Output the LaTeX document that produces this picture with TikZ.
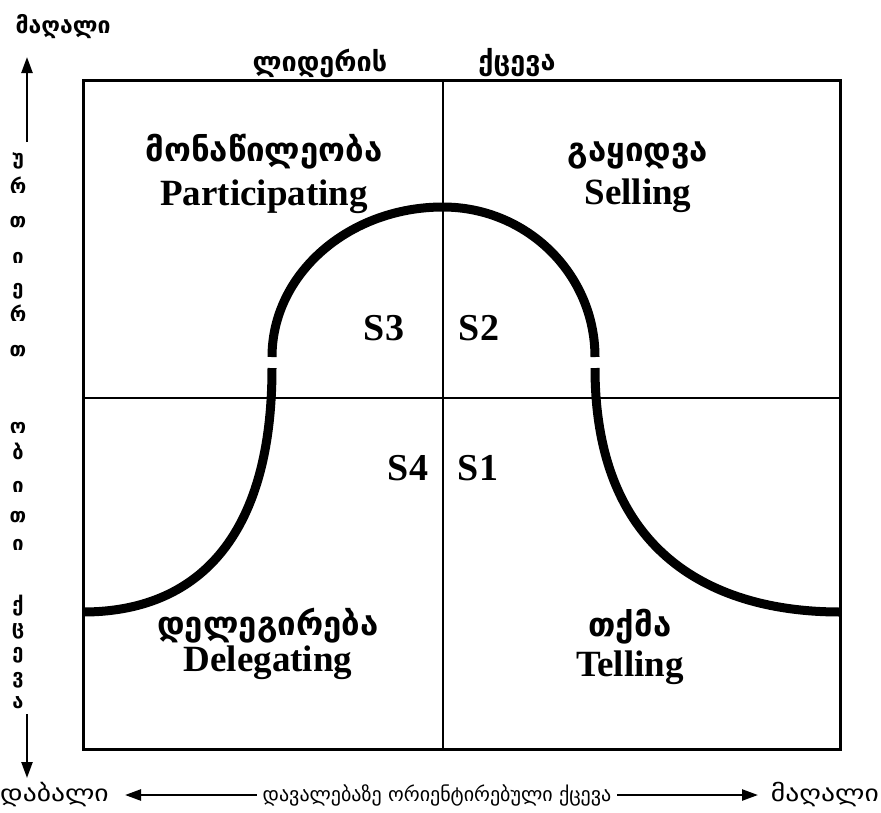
\documentclass[tikz,border=0pt]{standalone}
\usepackage{fontspec}
\setmainfont{Liberation Serif}
\newfontfamily\geo{DejaVu Sans}
\newfontfamily\geowide[FakeStretch=1.2]{DejaVu Sans}
\usetikzlibrary{arrows.meta, positioning}
\tikzset{
  frame/.style={draw, line width=3pt},
  divider/.style={draw, line width=2pt},
  curve/.style={line width=9pt},
  geolabel/.style={font=\geo\bfseries\fontsize{33}{33}\selectfont, inner sep=1pt},
  englabel/.style={font=\bfseries\fontsize{37}{37}\selectfont, inner sep=1pt},
  stylelabel/.style={font=\bfseries\fontsize{38}{38}\selectfont, inner sep=1pt},
  toplabel/.style={font=\geo\bfseries\fontsize{27}{27}\selectfont},
  vletter/.style={font=\geo\bfseries\fontsize{20}{20}\selectfont, inner sep=0pt},
  axistext/.style={font=\geo\fontsize{20}{20}\selectfont, inner sep=6pt},
  endword/.style={font=\geowide\fontsize{23}{23}\selectfont, inner sep=0pt},
  axisarrow/.style={-{Triangle[length=16pt, width=11pt]}, line width=2.4pt}
}
\begin{document}
\begin{tikzpicture}[x=1pt, y=-1pt]
    \useasboundingbox (0,0) rectangle (881,812);

    % quadrant grid
    \draw[frame] (83,80) rectangle (840,749);
    \draw[divider] (443,80) -- (443,749);
    \draw[divider] (83,398) -- (840,398);

    % leadership curve
    \draw[curve] (83,612) .. controls (195,612) and (272,540) .. (272,368);
    \draw[curve] (272,357) arc[start angle=180, end angle=270, x radius=171, y radius=150]
                           arc[start angle=270, end angle=360, x radius=152, y radius=150];
    \draw[curve] (595,368) .. controls (595,555) and (715,612) .. (840,612);

    % heading
    \node[toplabel] (leader) at (320,63) {ლიდერის};
    \node[toplabel] (behav) at (517,63) {ქცევა};
    \node[vletter, font=\geo\bfseries\fontsize{23}{23}\selectfont] (hightop) at (63,27) {მაღალი};

    % quadrants
    \node[geolabel] (partgeo) at (264,152) {მონაწილეობა};
    \node[englabel, below=8pt of partgeo] (parteng) {Participating};
    \node[geolabel] (sellgeo) at (638,155) {გაყიდვა};
    \node[englabel, below=8pt of sellgeo] (selleng) {Selling};
    \node[geolabel] (delgeo) at (268,626) {დელეგირება};
    \node[englabel, below=0pt of delgeo] (deleng) {Delegating};
    \node[geolabel] (tellgeo) at (630,627) {თქმა};
    \node[englabel, below=4pt of tellgeo] (telleng) {Telling};

    \node[stylelabel] (s3) at (384,328) {S3};
    \node[stylelabel] (s2) at (479,328) {S2};
    \node[stylelabel] (s4) at (408,468) {S4};
    \node[stylelabel] (s1) at (478,468) {S1};

    % relationship axis
    \foreach \ch/\yy [count=\i] in {უ/161, რ/185, თ/222, ი/258, ე/291, რ/313, თ/351,
        ო/428, ბ/451, ი/487, თ/517, ი/545,
        ქ/606, ც/631, ე/655, ვ/680, ა/703}
      \node[vletter] (rel\i) at (18,\yy) {\ch};
    \coordinate (upfoot) at (27,142);
    \coordinate (uptip) at (27,57);
    \coordinate (downfoot) at (27,714);
    \coordinate (downtip) at (27,778);
    \draw[axisarrow] (upfoot) -- (uptip);
    \draw[axisarrow] (downfoot) -- (downtip);

    % task axis
    \node[endword, anchor=west] (lowx) at (0,795) {დაბალი};
    \node[axistext] (taskx) at (437,795) {დავალებაზე ორიენტირებული ქცევა};
    \node[endword, anchor=east] (highx) at (879,795) {მაღალი};
    \coordinate (lowtip) at (125,795);
    \coordinate (hightip) at (758,795);
    \draw[axisarrow] (taskx) -- (lowtip);
    \draw[axisarrow] (taskx) -- (hightip);
\end{tikzpicture}
\end{document}
